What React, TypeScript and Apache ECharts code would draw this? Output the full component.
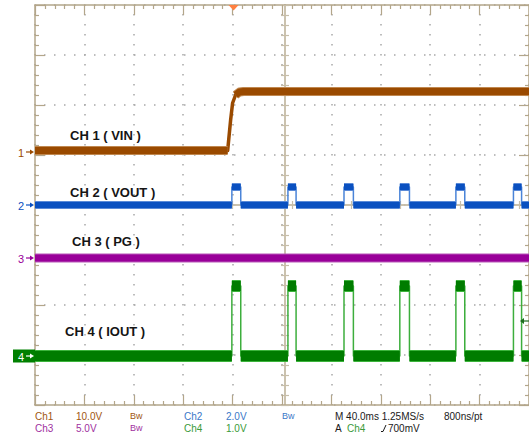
import React, { useEffect, useRef } from "react";
import * as echarts from "echarts";

// ---- acquisition settings ----
const TIME_PER_DIV = 40; // ms / div
const X_DIVS = 10;
const Y_DIVS = 8;
const X_MAX = TIME_PER_DIV * X_DIVS;
const SAMPLE_RATE = "1.25MS/s";
const RESOLUTION = "800ns/pt";

// ---- channels ----
const channelLabels = ["CH 1 ( VIN )", "CH 2 ( VOUT )", "CH 3 ( PG )", "CH 4 ( IOUT )"];
const channelIds = ["1", "2", "3", "4"];
const voltsPerDiv = [10, 2, 5, 1];
const groundDiv = [1.06, 0, -1.06, -3.02];

// CH1 VIN (time ms, volts)
const vinTime = [0, 156.0, 158.4, 160.0, 162.4, 165.6, 168.8, 400];
const vinVolts = [0.3, 0.3, 6.4, 9.8, 11.4, 12.0, 12.1, 12.1];

// hiccup pulses (ms)
const pulseRise = [159.4, 204.8, 250.2, 295.4, 340.8, 387.4];
const pulseFall = [166.6, 211.4, 257.8, 303.2, 348.0, 394.0];

const voutLow = 0.0;
const voutHigh = 0.72;
const pgLevel = 0.0;
const ioutLow = 0.0;
const ioutHigh = 1.4;

const triggerTime = 160.8;
const triggerLevel = 0.7; // V on Ch4

// ---- styles ----
const traceCore = ["#9a4a00", "#0a50c0", "#990099", "#007c00"];
const traceEdge = ["#c08850", "#5a8ad8", "#b858b8", "#3cb43c"];
const traceThin = ["#9a4a00", "#4a84d8", "#990099", "#3cae3c"];
const bandWidth = [7, 6, 7, 10];
const textColor = ["#a0560f", "#3a78c8", "#a030a0", "#3a9a3a"];
const borderColor = "#b3a68a";
const centerColor = "#c7bea9";
const dotColor = "#a8a8a8";
const FONT = '"Liberation Sans", Arial, sans-serif';

const toDiv = (ch: number, v: number) => groundDiv[ch] + v / voltsPerDiv[ch];

function pulseFull(ch: number, low: number, high: number) {
  const out: any[] = [[0, toDiv(ch, low)]];
  pulseRise.forEach((r, i) => {
    out.push(
      [r, toDiv(ch, low)],
      [r, toDiv(ch, high)],
      [pulseFall[i], toDiv(ch, high)],
      [pulseFall[i], toDiv(ch, low)]
    );
  });
  out.push([X_MAX, toDiv(ch, low)]);
  return out;
}

function pulseBands(ch: number, low: number, high: number) {
  const out: any[] = [];
  let start = 0;
  pulseRise.forEach((r, i) => {
    out.push([start, toDiv(ch, low)], [r, toDiv(ch, low)], [r, "-"]);
    out.push([r, toDiv(ch, high)], [pulseFall[i], toDiv(ch, high)], [pulseFall[i], "-"]);
    start = pulseFall[i];
  });
  out.push([start, toDiv(ch, low)], [X_MAX, toDiv(ch, low)]);
  return out;
}

function vinFull() {
  return vinTime.map((t, i) => [t, toDiv(0, vinVolts[i])]);
}
function vinBands() {
  // flat low part, break, then the rounded top and flat high part
  const out: any[] = [
    [vinTime[0], toDiv(0, vinVolts[0])],
    [vinTime[1], toDiv(0, vinVolts[1])],
    [vinTime[1], "-"],
  ];
  for (let i = 4; i < vinTime.length; i++) out.push([vinTime[i], toDiv(0, vinVolts[i])]);
  return out;
}

function lineSeries(data: any[], color: string, width: number) {
  return {
    type: "line",
    xAxisIndex: 0,
    yAxisIndex: 0,
    data,
    symbol: "none",
    silent: true,
    connectNulls: false,
    lineStyle: { color, width, cap: "butt", join: "round" },
  };
}

function bandPair(ch: number, data: any[]) {
  return [
    lineSeries(data, traceEdge[ch], bandWidth[ch] + 2),
    lineSeries(data, traceCore[ch], bandWidth[ch]),
  ];
}

export default function App() {
  const ref = useRef<HTMLDivElement>(null);
  useEffect(() => {
    const chart = echarts.init(ref.current!, null, { renderer: "svg" });

    const baseX = (extra: any) => ({
      type: "value",
      gridIndex: 0,
      min: 0,
      max: X_MAX,
      interval: TIME_PER_DIV,
      axisLabel: { show: false },
      splitLine: { show: false },
      ...extra,
    });
    const baseY = (extra: any) => ({
      type: "value",
      gridIndex: 0,
      min: -Y_DIVS / 2,
      max: Y_DIVS / 2,
      interval: 1,
      axisLabel: { show: false },
      splitLine: { show: false },
      ...extra,
    });
    const borderLine = { show: true, onZero: false, lineStyle: { color: borderColor, width: 1.5 } };
    const borderTick = { show: true, inside: true, length: 10, lineStyle: { color: borderColor, width: 1.2 } };
    const borderMinor = { show: true, splitNumber: 5, length: 4, lineStyle: { color: borderColor, width: 1.2 } };
    const dotted = { show: true, lineStyle: { color: dotColor, width: 1.5, type: [1.5, 8.5], dashOffset: 0.75 } };
    const centerLine = { show: true, onZero: false, lineStyle: { color: centerColor, width: 1.5 } };

    const option: any = {
      animation: false,
      backgroundColor: "#ffffff",
      grid: { left: 35, top: 5, width: 500, height: 400, containLabel: false },
      xAxis: [
        baseX({ position: "bottom", axisLine: borderLine, axisTick: borderTick, minorTick: borderMinor, splitLine: dotted }),
        baseX({ position: "top", axisLine: borderLine, axisTick: borderTick, minorTick: borderMinor }),
        baseX({
          position: "bottom",
          offset: -200,
          interval: TIME_PER_DIV / 5,
          axisLine: centerLine,
          axisTick: { show: true, inside: true, length: 4, lineStyle: { color: centerColor, width: 1.2 } },
        }),
        baseX({
          position: "bottom",
          offset: -200,
          interval: TIME_PER_DIV / 5,
          axisLine: centerLine,
          axisTick: { show: true, inside: false, length: 4, lineStyle: { color: centerColor, width: 1.2 } },
        }),
      ],
      yAxis: [
        baseY({ position: "left", axisLine: borderLine, axisTick: borderTick, minorTick: borderMinor, splitLine: dotted }),
        baseY({ position: "right", axisLine: borderLine, axisTick: borderTick, minorTick: borderMinor }),
        baseY({
          position: "left",
          offset: -250,
          interval: 0.2,
          axisLine: centerLine,
          axisTick: { show: true, inside: true, length: 4, lineStyle: { color: centerColor, width: 1.2 } },
        }),
        baseY({
          position: "left",
          offset: -250,
          interval: 0.2,
          axisLine: centerLine,
          axisTick: { show: true, inside: false, length: 4, lineStyle: { color: centerColor, width: 1.2 } },
        }),
      ],
      series: [
        // CH1
        lineSeries(vinFull(), traceCore[0], 3.5),
        ...bandPair(0, vinBands()),
        // CH2
        lineSeries(pulseFull(1, voutLow, voutHigh), traceThin[1], 1.5),
        ...bandPair(1, pulseBands(1, voutLow, voutHigh)),
        // CH3
        ...bandPair(2, [[0, toDiv(2, pgLevel)], [X_MAX, toDiv(2, pgLevel)]]),
        // CH4
        lineSeries(pulseFull(3, ioutLow, ioutHigh), traceThin[3], 1.5),
        ...bandPair(3, pulseBands(3, ioutLow, ioutHigh)),
      ],
    };
    chart.setOption(option);

    const px = (t: number, d: number) =>
      chart.convertToPixel({ xAxisIndex: 0, yAxisIndex: 0 } as any, [t, d]) as number[];

    const g: any[] = [];
    const txt = (x: number, y: number, text: string, fill: string, font: string, align = "left") => ({
      type: "text",
      silent: true,
      z: 100,
      style: {
        x,
        y,
        text,
        fill,
        font,
        align,
        textAlign: align,
        verticalAlign: "middle",
        textVerticalAlign: "middle",
      },
    });
    const arrowRight = (y: number, color: string) => [
      { type: "line", silent: true, z: 100, shape: { x1: 26, y1: y, x2: 31, y2: y }, style: { stroke: color, lineWidth: 1.2 } },
      {
        type: "polygon",
        silent: true,
        z: 100,
        shape: { points: [[30, y - 2.5], [34, y], [30, y + 2.5]] },
        style: { fill: color },
      },
    ];

    // ground markers
    for (let ch = 0; ch < 4; ch++) {
      const y = px(0, groundDiv[ch])[1];
      if (ch === 3) {
        g.push({ type: "rect", silent: true, z: 99, shape: { x: 13, y: y - 6.5, width: 22, height: 13 }, style: { fill: "#008000" } });
        g.push(txt(21, y + 0.5, channelIds[ch], "#ffffff", `11px ${FONT}`, "center"));
        g.push(...arrowRight(y, "#ffffff"));
      } else {
        g.push(txt(21, y + 0.5, channelIds[ch], traceCore[ch], `11px ${FONT}`, "center"));
        g.push(...arrowRight(y, traceCore[ch]));
      }
    }

    // channel captions
    const captionPos = [
      [70, 135],
      [70, 192],
      [72, 241],
      [65, 331],
    ];
    channelLabels.forEach((s, i) => {
      g.push(txt(captionPos[i][0], captionPos[i][1], s, "#151515", `bold 13px ${FONT}`));
    });

    // trigger position marker
    const tx = px(triggerTime, 0)[0];
    g.push({
      type: "polygon",
      silent: true,
      z: 100,
      shape: { points: [[tx - 5, 5], [tx + 5, 5], [tx, 10.5]] },
      style: { fill: "#ff7f40" },
    });

    // trigger level marker (right edge)
    const ty = px(0, toDiv(3, triggerLevel))[1];
    g.push({ type: "line", silent: true, z: 100, shape: { x1: 523, y1: ty, x2: 529, y2: ty }, style: { stroke: "#1d6b1d", lineWidth: 1.2 } });
    g.push({
      type: "polygon",
      silent: true,
      z: 100,
      shape: { points: [[520, ty], [524, ty - 3], [524, ty + 3]] },
      style: { fill: "#1d6b1d" },
    });

    // status lines
    const f10 = `10px ${FONT}`;
    const f9 = `9px ${FONT}`;
    const vd = (ch: number) => `${voltsPerDiv[ch].toFixed(1)}V`;
    const r1 = 416;
    const r2 = 428;
    g.push(txt(35, r1, "Ch1", textColor[0], f10));
    g.push(txt(76, r1, vd(0), textColor[0], f10));
    g.push(txt(130, r1, "Bw", textColor[0], f9));
    g.push(txt(184, r1, "Ch2", textColor[1], f10));
    g.push(txt(226, r1, vd(1), textColor[1], f10));
    g.push(txt(282, r1, "Bw", textColor[1], f9));
    g.push(txt(335, r1, `M ${TIME_PER_DIV.toFixed(1)}ms ${SAMPLE_RATE}`, "#1a1a1a", f10));
    g.push(txt(444, r1, RESOLUTION, "#1a1a1a", f10));
    g.push(txt(35, r2, "Ch3", textColor[2], f10));
    g.push(txt(76, r2, vd(2), textColor[2], f10));
    g.push(txt(130, r2, "Bw", textColor[2], f9));
    g.push(txt(184, r2, "Ch4", textColor[3], f10));
    g.push(txt(226, r2, vd(3), textColor[3], f10));
    g.push(txt(335, r2, "A", "#1a1a1a", f10));
    g.push(txt(347, r2, "Ch4", textColor[3], f10));
    g.push({
      type: "polyline",
      silent: true,
      z: 100,
      shape: { points: [[381, 431.5], [383, 431.5], [386, 425]] },
      style: { stroke: "#1a1a1a", lineWidth: 1, fill: null },
    });
    g.push(txt(388, r2, `${Math.round(triggerLevel * 1000)}mV`, "#1a1a1a", f10));

    chart.setOption({ graphic: g });

    return () => chart.dispose();
  }, []);

  return (
    <div
      ref={ref}
      style={{ position: "fixed", left: 0, top: 0, width: 529, height: 436, background: "#ffffff" }}
    />
  );
}
